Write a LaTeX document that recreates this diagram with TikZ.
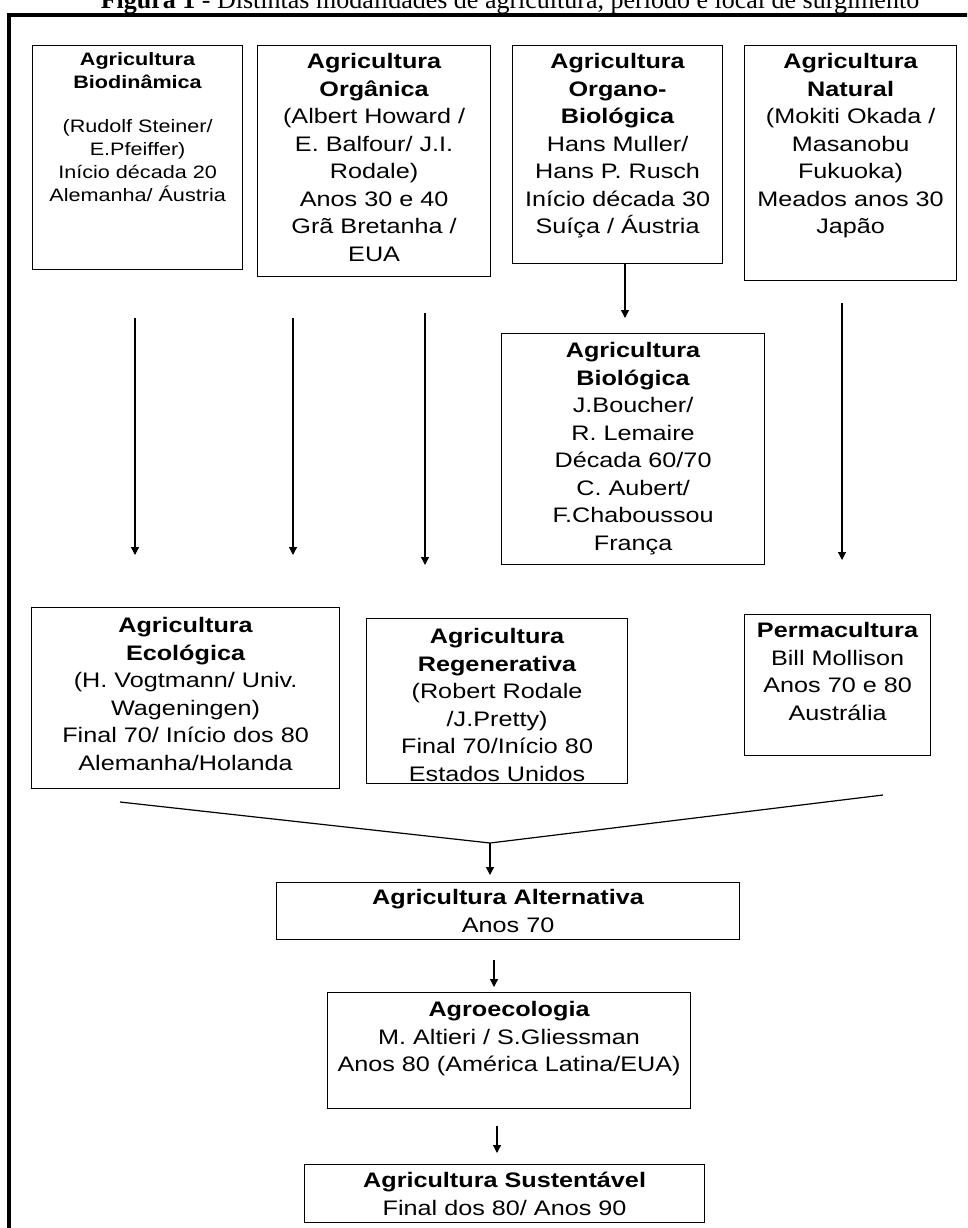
\documentclass[tikz,border=0pt]{standalone}
\usepackage{fontspec}
\setmainfont{Liberation Sans}[FakeStretch=1.2]
\newfontfamily\titlefont{Liberation Serif}
\usetikzlibrary{arrows.meta}

\newcommand{\boxtxt}[4][23pt]{\parbox[t][#3][t]{#2}{\centering\rule{0pt}{#1}#4}}

\tikzset{
    modbox/.style={draw, line width=1.2pt, inner sep=0pt, anchor=north west, font=\fontsize{21}{27.5}\selectfont},
    smallbox/.style={modbox, font=\fontsize{18}{23}\selectfont},
    seta/.style={line width=1.2pt, -{Triangle[width=8pt,length=8pt]}}
}

\begin{document}
\begin{tikzpicture}[x=1pt, y=-1pt]
        \useasboundingbox (0, 0) rectangle (967, 1228);
        \clip (0, 0) rectangle (967, 1228);
        \node [font=\titlefont\fontsize{26}{30}\selectfont, anchor=base] (titulo) at (510, 9)
            {\textbf{Figura 1} - Distintas modalidades de agricultura, período e local de surgimento};
        \draw [line width=3.5pt] (9, 1240) -- (9, 15) -- (980, 15);

        \node [smallbox] (biodin) at (32, 45) {\boxtxt[20pt]{210pt}{224pt}{\textbf{Agricultura}\\\textbf{Biodinâmica}\\[21pt]
            (Rudolf Steiner/\\E.Pfeiffer)\\Início década 20\\Alemanha/ Áustria}};
        \node [modbox] (organica) at (257, 45) {\boxtxt{233pt}{231pt}{\textbf{Agricultura}\\\textbf{Orgânica}\\
            (Albert Howard /\\E. Balfour/ J.I.\\Rodale)\\Anos 30 e 40\\Grã Bretanha /\\EUA}};
        \node [modbox] (organo) at (512, 45) {\boxtxt{210pt}{218pt}{\textbf{Agricultura}\\\textbf{Organo-}\\\textbf{Biológica}\\
            Hans Muller/\\Hans P. Rusch\\Início década 30\\Suíça / Áustria}};
        \node [modbox] (natural) at (744, 45) {\boxtxt{212pt}{235pt}{\textbf{Agricultura}\\\textbf{Natural}\\
            (Mokiti Okada /\\Masanobu\\Fukuoka)\\Meados anos 30\\Japão}};
        \node [modbox] (biologica) at (501, 333) {\boxtxt[24pt]{263pt}{231pt}{\textbf{Agricultura}\\\textbf{Biológica}\\
            J.Boucher/\\R. Lemaire\\Década 60/70\\C. Aubert/\\F.Chaboussou\\França}};
        \node [modbox] (ecologica) at (31, 607) {\boxtxt[25pt]{308pt}{181pt}{\textbf{Agricultura}\\\textbf{Ecológica}\\
            (H. Vogtmann/ Univ.\\Wageningen)\\Final 70/ Início dos 80\\Alemanha/Holanda}};
        \node [modbox] (regenerativa) at (366, 618) {\boxtxt[25pt]{261pt}{165pt}{\textbf{Agricultura}\\\textbf{Regenerativa}\\
            (Robert Rodale\\/J.Pretty)\\Final 70/Início 80\\Estados Unidos}};
        \node [modbox] (perma) at (744, 614) {\boxtxt{186pt}{141pt}{\textbf{Permacultura}\\
            Bill Mollison\\Anos 70 e 80\\Austrália}};
        \node [modbox] (alternativa) at (276, 882) {\boxtxt[22pt]{463pt}{57pt}{\textbf{Agricultura Alternativa}\\Anos 70}};
        \node [modbox] (agroeco) at (327, 992) {\boxtxt[24pt]{363pt}{116pt}{\textbf{Agroecologia}\\
            M. Altieri / S.Gliessman\\Anos 80 (América Latina/EUA)}};
        \node [modbox] (sustentavel) at (304, 1164) {\boxtxt{400pt}{58pt}{\textbf{Agricultura Sustentável}\\Final dos 80/ Anos 90}};

        \coordinate (s1) at (135, 318);
        \coordinate (e1) at (135, 555);
        \coordinate (s2) at (293, 318);
        \coordinate (e2) at (293, 555);
        \coordinate (s3) at (425, 313);
        \coordinate (e3) at (425, 565);
        \coordinate (s4) at (842, 303);
        \coordinate (e4) at (842, 560);
        \coordinate (e5) at (625, 318);
        \draw [seta] (s1) -- (e1);
        \draw [seta] (s2) -- (e2);
        \draw [seta] (s3) -- (e3);
        \draw [seta] (s4) -- (e4);
        \draw [seta] (e5 |- organo.south) -- (e5);

        \coordinate (cl) at (120, 802);
        \coordinate (cr) at (883, 795);
        \coordinate (cm) at (490, 843);
        \draw [line width=1.2pt] (cl) -- (cm) -- (cr);
        \draw [seta] (cm) -- ([yshift=7pt]alternativa.north -| cm);

        \coordinate (d1) at (494, 960);
        \coordinate (d2) at (497, 1126);
        \draw [seta] (d1) -- ([yshift=5pt]agroeco.north -| d1);
        \draw [seta] (d2) -- ([yshift=11pt]sustentavel.north -| d2);
    \end{tikzpicture}
\end{document}
